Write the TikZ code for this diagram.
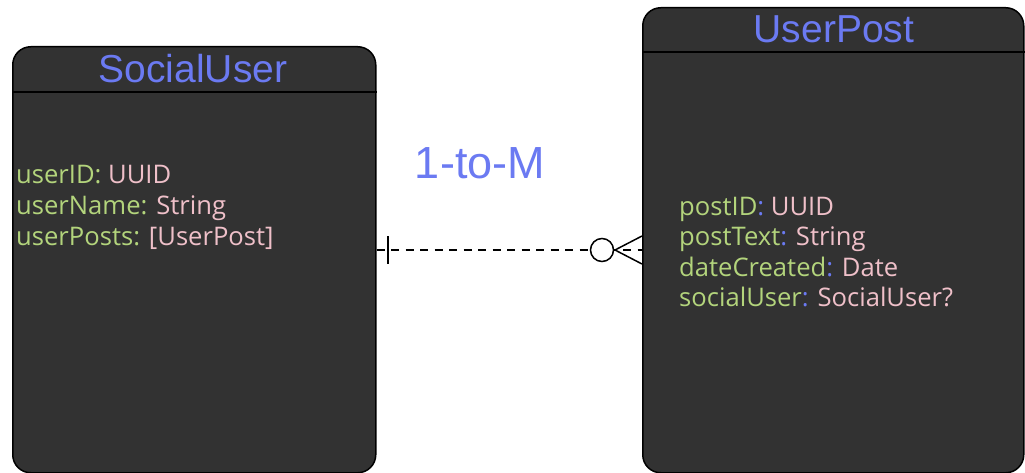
\documentclass[tikz,border=0pt]{standalone}
\usepackage{fontspec}
\setmainfont{Open Sans}
\newfontfamily\titlefont{Liberation Sans}
\definecolor{boxfill}{HTML}{323232}
\definecolor{titleblue}{HTML}{6B7AF2}
\definecolor{attrgreen}{HTML}{B3D47C}
\definecolor{attrpink}{HTML}{EFC0C9}
\tikzset{
  entity/.style={draw=black, line width=1.5pt, fill=boxfill, rounded corners=18pt, inner sep=0pt},
  etitle/.style={anchor=base, text=titleblue, inner sep=0pt, font=\titlefont\fontsize{39}{42}\selectfont},
  attr/.style={anchor=base west, inner sep=0pt, font=\fontsize{25.6}{30}\selectfont},
  conn/.style={line width=1.5pt, black},
}
\newcommand{\nm}[1]{\textcolor{attrgreen}{#1}}
\newcommand{\ty}[1]{\textcolor{attrpink}{#1}}
\newcommand{\bc}{\textcolor{titleblue}{:}}
\begin{document}
\begin{tikzpicture}[x=1pt,y=-1pt]
\useasboundingbox (0,0) rectangle (1025,473);
\fill[white] (0,0) rectangle (1025,473);
% entities
\node[entity, minimum width=363pt, minimum height=426pt, anchor=north west] (su) at (12,46) {};
\node[entity, minimum width=381pt, minimum height=465pt, anchor=north west] (up) at (642,7) {};
\draw[line width=1.5pt] (su.west |- 0,92) -- (su.east |- 0,92);
\draw[line width=1.5pt] (up.west |- 0,52) -- (up.east |- 0,52);
% titles
\node[etitle] (sut) at (193,83) {SocialUser};
\node[etitle] (upt) at (834,43) {UserPost};
% attributes
\node[attr] (su1) at (16,184) {\nm{userID:} \ty{UUID}};
\node[attr] (su2) at (16,214.5) {\nm{userName:} \ty{String}};
\node[attr] (su3) at (16,245) {\nm{userPosts:} \ty{[UserPost]}};
\node[attr] (up1) at (679,215) {\nm{postID}\bc{} \ty{UUID}};
\node[attr] (up2) at (679,245.5) {\nm{postText}\bc{} \ty{String}};
\node[attr] (up3) at (679,276) {\nm{dateCreated}\bc{} \ty{Date}};
\node[attr] (up4) at (679,306.5) {\nm{socialUser}\bc{} \ty{SocialUser?}};
% relation label
\node[anchor=base, inner sep=0pt, text=titleblue, font=\titlefont\fontsize{45}{48}\selectfont] (lbl) at (480,179) {1-to-M};
% connector
\coordinate (a) at (su.east |- 0,250);
\coordinate (b) at (up.west |- 0,250);
\coordinate (foot) at (615,250);
\draw[conn, dash pattern=on 8pt off 6.5pt] (a) -- (b);
\draw[conn] (a) -- ++(6,0);
\draw[conn] (388,236) -- (388,264);
\draw[conn] (b |- 0,236) -- (foot) -- (b |- 0,264);
\draw[conn, fill=white] (602,250) circle (11.5pt);
\end{tikzpicture}
\end{document}
